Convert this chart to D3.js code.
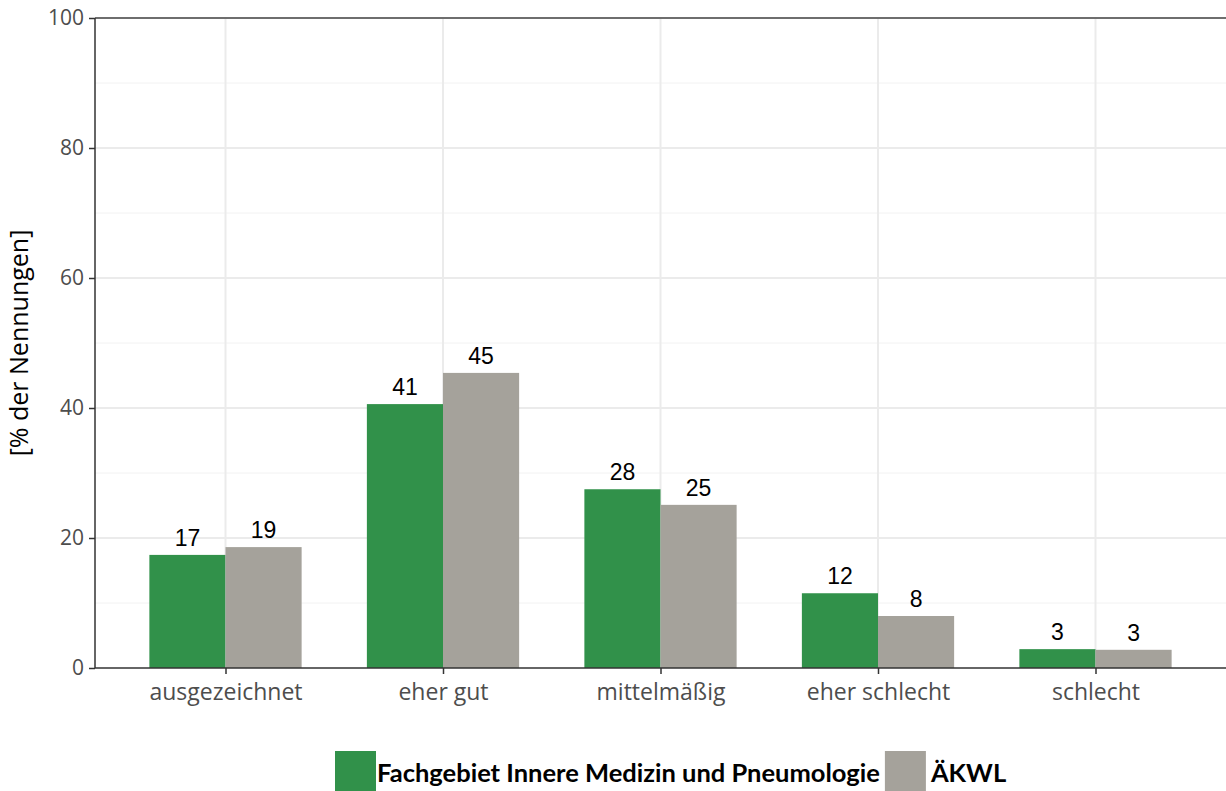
<!DOCTYPE html>
<html><head><meta charset="utf-8">
<script src="https://cdn.jsdelivr.net/npm/d3@7"></script>
<style>body{margin:0;background:#fff}svg{display:block}</style>
</head><body>
<svg id="c" width="1226" height="791"></svg>
<script>
const categories = ["ausgezeichnet","eher gut","mittelmäßig","eher schlecht","schlecht"];
const seriesNames = ["Fachgebiet Innere Medizin und Pneumologie","ÄKWL"];
const fachgebiet = [17.4, 40.6, 27.5, 11.5, 2.9];
const aekwl = [18.6, 45.4, 25.1, 8.0, 2.8];
const labelsFach = ["17","41","28","12","3"];
const labelsAekwl = ["19","45","25","8","3"];
const yTicks = [0,20,40,60,80,100];
const yMinor = [10,30,50,70,90];
const colors = ["#31914a","#a5a29b"];

const svg = d3.select("#c");
const L = 95, R = 1226, T = 18, B = 668;
const y = d3.scaleLinear().domain([0,100]).range([B,T]);
const unit = (R - L) / (categories.length - 1 + 1.2);
const x = d3.scalePoint().domain(categories).range([L + 0.6*unit, R - 0.6*unit]);
const barW = unit * 0.35;

const g = svg.append("g");
g.selectAll(".gmin").data(yMinor).join("line")
  .attr("x1",L).attr("x2",R).attr("y1",d=>y(d)).attr("y2",d=>y(d))
  .attr("stroke","#f2f2f2").attr("stroke-width",1);
g.selectAll(".gmaj").data(yTicks.slice(1)).join("line")
  .attr("x1",L).attr("x2",R).attr("y1",d=>y(d)).attr("y2",d=>y(d))
  .attr("stroke","#ebebeb").attr("stroke-width",2);
g.selectAll(".gx").data(categories).join("line")
  .attr("x1",d=>x(d)).attr("x2",d=>x(d)).attr("y1",T).attr("y2",B)
  .attr("stroke","#ebebeb").attr("stroke-width",2);
g.append("line").attr("x1",L).attr("x2",R).attr("y1",T).attr("y2",T)
  .attr("stroke","#444").attr("stroke-width",1.5);

const series = [fachgebiet, aekwl];
const labs = [labelsFach, labelsAekwl];
series.forEach((vals,si)=>{
  g.selectAll(".b"+si).data(categories).join("rect")
    .attr("x",(d)=>x(d) + (si===0 ? -barW : 0))
    .attr("width",barW)
    .attr("y",(d,i)=>y(vals[i]))
    .attr("height",(d,i)=>B - y(vals[i]))
    .attr("fill",colors[si]);
  g.selectAll(".l"+si).data(categories).join("text")
    .attr("x",(d)=>x(d) + (si===0 ? -barW/2 : barW/2))
    .attr("y",(d,i)=>y(vals[i]) - 9)
    .attr("text-anchor","middle")
    .style("font-family","Liberation Sans, Arial, sans-serif")
    .style("font-size","23px").attr("fill","#000")
    .text((d,i)=>labs[si][i]);
});

const yAxis = d3.axisLeft(y).tickValues(yTicks).tickSize(6).tickPadding(5);
const ya = svg.append("g").attr("transform",`translate(${L},0)`).call(yAxis);
ya.select(".domain").attr("stroke","#333").attr("stroke-width",1.5).attr("d",`M0,${T}V${B}`);
ya.selectAll(".tick line").attr("stroke","#333").attr("stroke-width",1.5);
ya.selectAll(".tick text").style("font-family","Open Sans, sans-serif").style("font-size","21px").attr("fill","#4d4d4d");

const xAxis = d3.axisBottom(x).tickSize(6).tickPadding(6);
const xa = svg.append("g").attr("transform",`translate(0,${B})`).call(xAxis);
xa.select(".domain").attr("stroke","#333").attr("stroke-width",1.5).attr("d",`M${L},0H${R}`);
xa.selectAll(".tick line").attr("stroke","#333").attr("stroke-width",1.5);
xa.selectAll(".tick text").style("font-family","Open Sans, sans-serif").style("font-size","23px").attr("fill","#4d4d4d").attr("dy","0.85em");

svg.append("text").attr("transform",`translate(28,${(T+B)/2 - 0}) rotate(-90)`)
  .attr("text-anchor","middle").style("font-family","Open Sans, sans-serif")
  .style("font-size","25px").attr("fill","#000").text("[% der Nennungen]");

const lg = svg.append("g").attr("transform","translate(335,751)");
let lx = 0;
seriesNames.forEach((n,i)=>{
  lg.append("rect").attr("x",lx).attr("y",0).attr("width",41).attr("height",40).attr("fill",colors[i]);
  const t = lg.append("text").attr("x",lx+(i===0?42:46)).attr("y",31)
    .style("font-family","Lato, sans-serif").style("font-weight","bold")
    .style("font-size","25.5px").attr("fill","#000").text(n);
  lx += 42 + t.node().getComputedTextLength() + 5;
});
</script>
</body></html>
